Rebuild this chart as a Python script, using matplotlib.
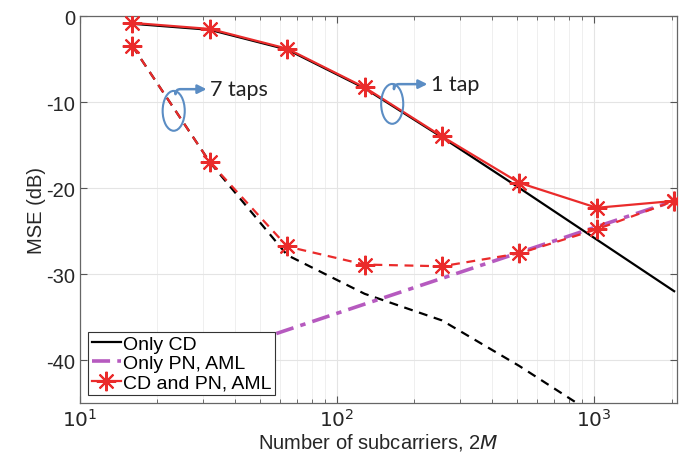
import matplotlib

matplotlib.use("Agg")
import matplotlib.pyplot as plt
import numpy as np
from matplotlib.patches import Ellipse
from matplotlib.ticker import FixedLocator, LogLocator, NullFormatter

# number of subcarriers 2M
N_SUB = [16, 32, 64, 128, 256, 512, 1024, 2048]

# MSE (dB)
CD_1TAP = [-0.9, -1.6, -3.9, -8.4, -14.1, -20.0, -26.0, -32.0]          # only CD, 1 tap
CD_7TAP = [-3.5, -17.0, -27.8, -32.3, -35.4, -40.7, -46.5, -52.0]       # only CD, 7 taps
PN_AML = [-42.5, -39.5, -36.5, -33.5, -30.5, -27.5, -24.5, -21.5]       # only PN, AML
BOTH_1TAP = [-0.8, -1.5, -3.8, -8.3, -14.0, -19.4, -22.3, -21.5]        # CD and PN, 1 tap
BOTH_7TAP = [-3.5, -17.0, -26.8, -28.9, -29.1, -27.6, -24.8, -21.5]     # CD and PN, 7 taps

LEGEND = ["Only CD", "Only PN, AML", "CD and PN, AML"]

RED = "#ea2b2b"
MAGENTA = "#b65abf"
BLUE = "#5b8dc4"
STAR = (8, 2, 0)

plt.rcParams["font.family"] = ["Liberation Sans", "DejaVu Sans"]

fig = plt.figure(figsize=(6.87, 4.64), dpi=100)
ax = fig.add_axes([0.1164, 0.1293, 0.869, 0.834])

ax.plot(N_SUB, CD_7TAP, color="black", lw=1.6, ls=(0, (4, 3)), zorder=2)
h_cd, = ax.plot(N_SUB, CD_1TAP, color="black", lw=1.6, zorder=2)
h_pn, = ax.plot(N_SUB, PN_AML, color=MAGENTA, lw=2.6, ls=(0, (5, 2, 1.5, 2)), zorder=3)
ax.plot(N_SUB, BOTH_7TAP, color=RED, lw=1.6, ls=(0, (4, 3)), marker=STAR,
        ms=14, mew=1.5, zorder=4)
h_both, = ax.plot(N_SUB, BOTH_1TAP, color=RED, lw=1.6, marker=STAR,
                  ms=14, mew=1.5, zorder=4)

ax.set_xscale("log")
ax.set_xlim(10, 2100)
ax.set_ylim(-45, 0)
ax.yaxis.set_major_locator(FixedLocator([0, -10, -20, -30, -40]))
ax.set_yticklabels(["0", "-10", "-20", "-30", "-40"])
ax.xaxis.set_major_locator(FixedLocator([10, 100, 1000]))
ax.set_xticklabels([r"$10^1$", r"$10^2$", r"$10^3$"])
ax.xaxis.set_minor_locator(LogLocator(base=10, subs=np.arange(2, 10)))
ax.xaxis.set_minor_formatter(NullFormatter())

ax.grid(True, which="major", color="#e4e4e4", lw=0.8, zorder=0)
ax.grid(True, which="minor", axis="x", color="#ececec", lw=0.6, zorder=0)
ax.tick_params(which="both", direction="in", top=True, right=True,
               colors="#555555", labelcolor="#262626", labelsize=14.5)
ax.tick_params(which="major", length=5)
ax.tick_params(which="minor", length=3)
for sp in ax.spines.values():
    sp.set_color("#666666")
    sp.set_linewidth(0.9)

ax.set_ylabel("MSE (dB)", fontsize=14.5, color="#262626", labelpad=0)
ax.set_xlabel(r"Number of subcarriers, 2$\it{M}$", fontsize=14.5, color="#262626", labelpad=1)

leg = ax.legend([h_cd, h_pn, h_both], LEGEND, loc="lower left", fontsize=14,
                handlelength=1.5, handletextpad=0.1, borderpad=0.2, labelspacing=0.08,
                borderaxespad=0.4, fancybox=False, framealpha=1, edgecolor="#333333")
leg.get_frame().set_linewidth(0.8)

# tap annotations: ellipse around the curves + arrow to the label
for cx, cy, tx, ty, label in [(0.157, 0.755, 0.218, 0.811, "7 taps"),
                              (0.523, 0.773, 0.588, 0.824, "1 tap")]:
    ax.add_patch(Ellipse((cx, cy), 0.037, 0.103, transform=ax.transAxes, fill=False,
                         ec=BLUE, lw=1.5, zorder=6))
    ax.annotate("", xy=(tx - 0.006, ty), xytext=(cx + 0.003, cy + 0.05),
                xycoords="axes fraction", textcoords="axes fraction",
                arrowprops=dict(arrowstyle="-|>", color=BLUE, lw=1.8,
                                connectionstyle="angle,angleA=90,angleB=0,rad=5",
                                mutation_scale=13, shrinkA=0, shrinkB=0), zorder=6)
    ax.text(tx, ty, label, transform=ax.transAxes, fontsize=15.5, color="#222222",
            family=["Lato", "DejaVu Sans"], ha="left", va="center", zorder=6)

fig.savefig("out.png", dpi=100)
